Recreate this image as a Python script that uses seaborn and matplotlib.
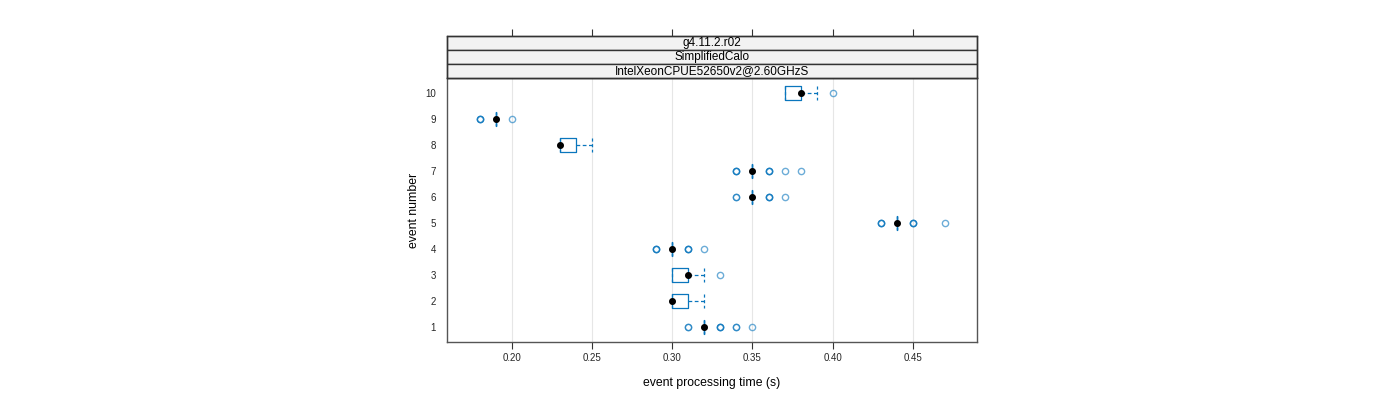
import numpy as np
import pandas as pd
import matplotlib
matplotlib.use("Agg")
import matplotlib.pyplot as plt
from matplotlib.patches import Rectangle
import seaborn as sns

# ---- data (event processing time values in s, with repeat counts) ----
events = ["1", "2", "3", "4", "5", "6", "7", "8", "9", "10"]
times_e1 = [0.31, 0.32, 0.33, 0.34, 0.35]
counts_e1 = [2, 17, 3, 2, 1]
times_e2 = [0.30, 0.31, 0.32]
counts_e2 = [6, 4, 1]
times_e3 = [0.30, 0.31, 0.32, 0.33]
counts_e3 = [4, 5, 1, 1]
times_e4 = [0.29, 0.30, 0.31, 0.32]
counts_e4 = [3, 14, 3, 1]
times_e5 = [0.43, 0.44, 0.45, 0.47]
counts_e5 = [3, 14, 3, 1]
times_e6 = [0.34, 0.35, 0.36, 0.37]
counts_e6 = [2, 14, 3, 1]
times_e7 = [0.34, 0.35, 0.36, 0.37, 0.38]
counts_e7 = [3, 14, 3, 1, 1]
times_e8 = [0.23, 0.24, 0.25]
counts_e8 = [6, 4, 1]
times_e9 = [0.18, 0.19, 0.20]
counts_e9 = [3, 12, 1]
times_e10 = [0.37, 0.38, 0.39, 0.40]
counts_e10 = [4, 5, 1, 1]

strip_labels = ["g4.11.2.r02", "SimplifiedCalo", "IntelXeonCPUE52650v2@2.60GHzS"]
x_ticks = [0.20, 0.25, 0.30, 0.35, 0.40, 0.45]
x_ticklabels = ["0.20", "0.25", "0.30", "0.35", "0.40", "0.45"]
x_label = "event processing time (s)"
y_label = "event number"

all_times = [times_e1, times_e2, times_e3, times_e4, times_e5,
             times_e6, times_e7, times_e8, times_e9, times_e10]
all_counts = [counts_e1, counts_e2, counts_e3, counts_e4, counts_e5,
              counts_e6, counts_e7, counts_e8, counts_e9, counts_e10]

rows = []
for ev, ts, cs in zip(events, all_times, all_counts):
    for t, c in zip(ts, cs):
        rows += [(ev, t)] * c
df = pd.DataFrame(rows, columns=["event", "time"])
order = events[::-1]

# ---- style ----
sns.set_theme(style="white")
plt.rcParams["font.family"] = ["Liberation Sans", "DejaVu Sans"]
BLUE = "#0a76bd"
EDGE = "#555555"

fig = plt.figure(figsize=(14, 4), dpi=100)
L = 447 / 1400
W = 530 / 1400
ax = fig.add_axes([L, 1 - 342 / 400, W, (342 - 78) / 400])

sns.boxplot(
    data=df, x="time", y="event", order=order, orient="h",
    width=0.52, whis=1.5, fill=False, color=BLUE, linewidth=0.9,
    medianprops=dict(visible=False),
    whiskerprops=dict(linestyle=(0, (3, 2)), color=BLUE),
    capprops=dict(linestyle=(0, (2.5, 2)), color=BLUE),
    capwidths=0.52,
    flierprops=dict(marker="o", markersize=4.5, markerfacecolor="none",
                    markeredgecolor=BLUE, markeredgewidth=1.0, alpha=0.6),
    ax=ax,
)
sns.pointplot(
    data=df, x="time", y="event", order=order, orient="h",
    estimator="median", errorbar=None, linestyle="none",
    color="black", marker="o", markersize=3.0, ax=ax,
)

ax.set_xlim(0.1595, 0.49)
ax.set_ylim(9.58, -0.58)
ax.set_xticks(x_ticks)
ax.set_xticklabels(x_ticklabels)
ax.xaxis.grid(True, color="#e6e6e6", linewidth=0.8)
ax.yaxis.grid(False)
ax.set_axisbelow(True)
for s in ax.spines.values():
    s.set_color(EDGE)
    s.set_linewidth(1.0)
ax.tick_params(axis="x", bottom=True, top=False, direction="out", length=5,
               width=0.8, color="#333333", labelsize=7, pad=3)
ax.tick_params(axis="y", left=False, right=False, length=0, pad=8, labelsize=7)
ax.set_xlabel(x_label, fontsize=8.8, labelpad=10, color="black")
ax.set_ylabel(y_label, fontsize=8.8, labelpad=4, color="black")

# ---- strips ----
sax = fig.add_axes([L, 1 - 78 / 400, W, 42.5 / 400])
sax.set_xlim(ax.get_xlim())
sax.set_ylim(0, 1)
for i, txt in enumerate(strip_labels):
    y0 = (2 - i) / 3
    sax.add_patch(Rectangle((0, y0), 1, 1 / 3, transform=sax.transAxes,
                            facecolor="#f2f2f2", edgecolor="#333333",
                            linewidth=1.0, clip_on=False))
    sax.text(0.5, y0 + 1 / 6, txt, transform=sax.transAxes, ha="center",
             va="center", fontsize=8.5, color="black")
sax.set_xticks(x_ticks)
sax.set_yticks([])
sax.tick_params(axis="x", top=True, bottom=False, labeltop=False,
                labelbottom=False, direction="out", length=5, width=0.8,
                color="#333333")
for s in sax.spines.values():
    s.set_color("#333333")
    s.set_linewidth(1.0)

fig.savefig("out.png", dpi=100)
